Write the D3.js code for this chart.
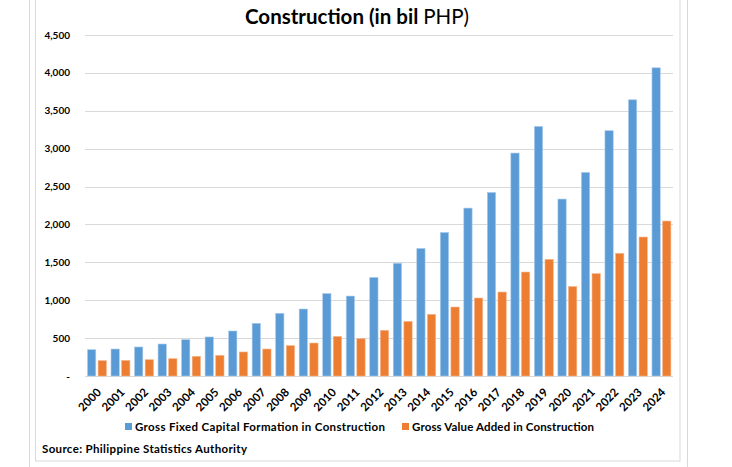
<!DOCTYPE html>
<html><head><meta charset="utf-8">
<script src="https://cdn.jsdelivr.net/npm/d3@7"></script>
<style>body{margin:0;background:#fff;}svg{display:block;font-family:Lato,"Open Sans",sans-serif;}</style>
</head><body>
<svg id="c" width="732" height="467"></svg>
<script>
const years = ["2000","2001","2002","2003","2004","2005","2006","2007","2008","2009","2010","2011","2012","2013","2014","2015","2016","2017","2018","2019","2020","2021","2022","2023","2024"];
const gfcf = [347,356,383,422,479,515,594,695,827,884,1088,1055,1300,1488,1683,1894,2216,2422,2942,3293,2335,2687,3237,3645,4067];
const gva  = [202,205,215,228,259,272,317,356,400,435,522,492,602,720,813,910,1029,1108,1372,1539,1180,1351,1618,1834,2045];
const seriesNames = ["Gross Fixed Capital Formation in Construction","Gross Value Added in Construction"];
const colors = ["#5B9BD5","#ED7D31"];
const yTicks = [0,500,1000,1500,2000,2500,3000,3500,4000,4500];

const svg = d3.select("#c");
// outer frame lines
svg.append("line").attr("x1",29.5).attr("x2",29.5).attr("y1",0).attr("y2",467).attr("stroke","#d9d9d9");
svg.append("line").attr("x1",687.5).attr("x2",687.5).attr("y1",0).attr("y2",467).attr("stroke","#d9d9d9");
svg.append("rect").attr("x",35.5).attr("y",-5).attr("width",644.5).attr("height",466).attr("fill","none").attr("stroke","#d9d9d9");

const x = d3.scaleBand().domain(years).range([85,673]).paddingInner(0).paddingOuter(0);
const x1 = d3.scaleBand().domain([0,1]).range([2.5,21.4]).paddingInner(0.22);
const y = d3.scaleLinear().domain([0,4500]).range([376,35]);

// gridlines
svg.append("g").selectAll("line").data(yTicks.slice(1)).join("line")
  .attr("x1",85).attr("x2",673).attr("y1",d=>Math.round(y(d))+0.5).attr("y2",d=>Math.round(y(d))+0.5)
  .attr("stroke","#d9d9d9").attr("stroke-width",1);
svg.append("line").attr("x1",85).attr("x2",673).attr("y1",376.5).attr("y2",376.5).attr("stroke","#d9d9d9");

// y axis labels
const fmt = d3.format(",");
svg.append("g").selectAll("text").data(yTicks).join("text")
  .attr("x",70).attr("y",d=>y(d)).attr("dy","0.35em").attr("text-anchor","end")
  .attr("font-size",10).attr("font-weight","bold").attr("fill","#000")
  .text(d=>d===0?"-":fmt(d));

// bars
const data = years.map((yr,i)=>({yr, v:[gfcf[i],gva[i]]}));
const g = svg.append("g");
data.forEach(d=>{
  d.v.forEach((v,k)=>{
    g.append("rect").attr("x",x(d.yr)+x1(k)).attr("width",x1.bandwidth())
      .attr("y",y(v)).attr("height",y(0)-y(v)).attr("fill",colors[k])
      .attr("stroke",k===0?"#a9cbeb":"#f5b48a").attr("stroke-width",0.6);
  });
});

// x labels
svg.append("g").selectAll("text").data(years).join("text")
  .attr("transform",d=>`translate(${x(d)+x.bandwidth()/2-1},${387}) rotate(-45)`)
  .attr("text-anchor","end").attr("dy","0.75em").attr("font-size",11.5).attr("font-weight","bold")
  .text(d=>d);

// title
const t = svg.append("text").attr("x",357).attr("y",24).attr("text-anchor","middle").attr("font-size",20.5).attr("fill","#000");
t.append("tspan").attr("font-weight","bold").text("Construction (in bil ");
t.append("tspan").text("PHP)");

// legend
const leg = svg.append("g");
const lx = [125,402];
const lw = [250,182];
seriesNames.forEach((n,k)=>{
  leg.append("rect").attr("x",lx[k]).attr("y",423).attr("width",7).attr("height",7).attr("fill",colors[k]);
  leg.append("text").attr("x",lx[k]+10).attr("y",427).attr("dy","0.35em").attr("font-size",11.5).attr("font-weight","bold")
    .attr("textLength",lw[k]).attr("lengthAdjust","spacing").text(n);
});

// source
svg.append("text").attr("x",42).attr("y",449).attr("dy","0.35em").attr("font-size",11.5).attr("font-weight","bold")
  .attr("textLength",205).attr("lengthAdjust","spacing").text("Source: Philippine Statistics Authority");
</script>
</body></html>
